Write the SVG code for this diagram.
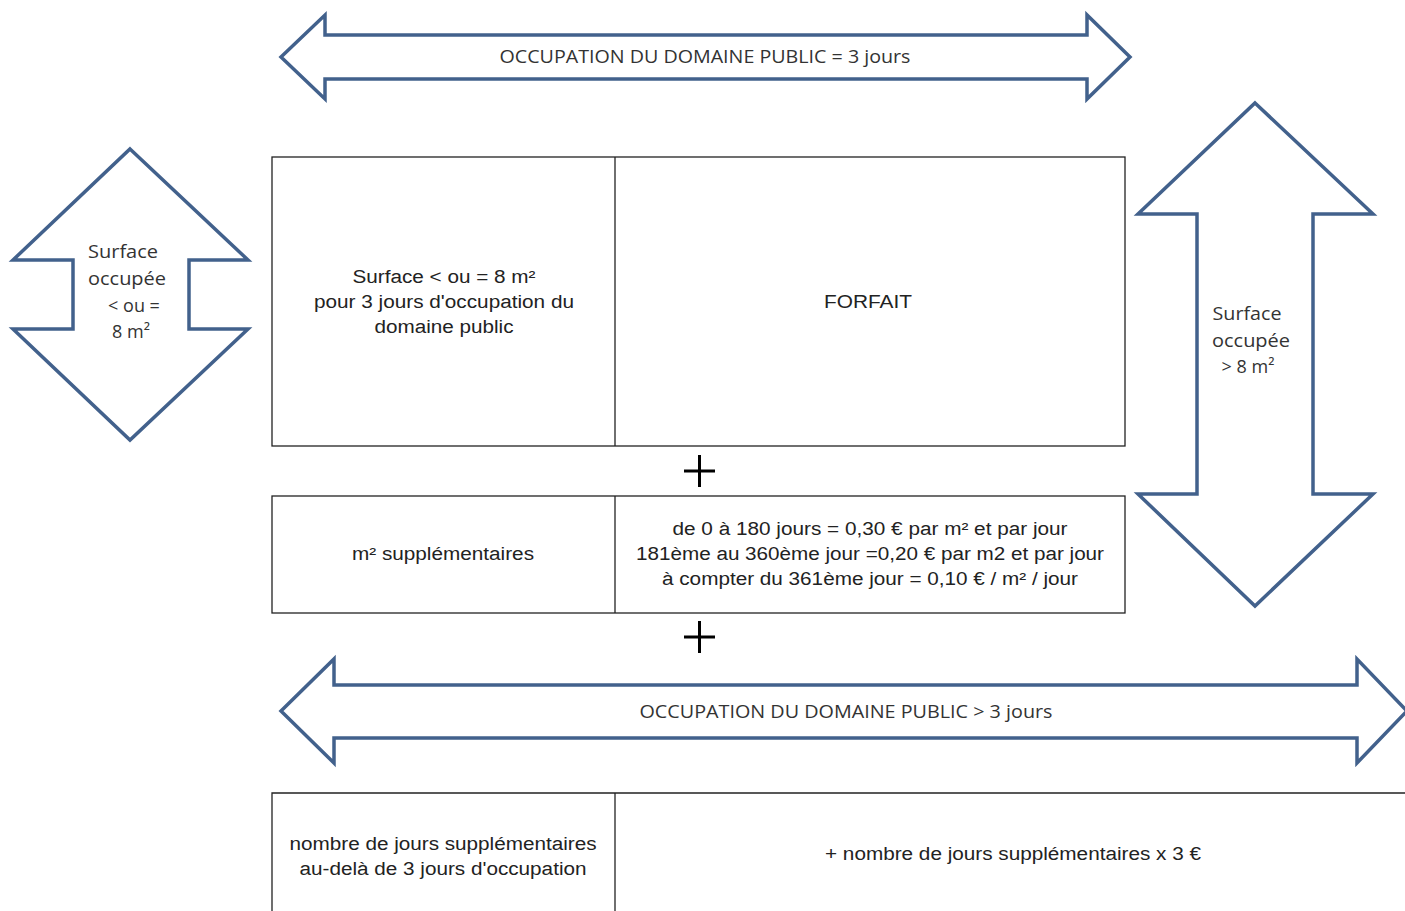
<svg xmlns="http://www.w3.org/2000/svg" width="1405" height="911" viewBox="0 0 1405 911">
<style>
.arr{fill:#fff;stroke:#42618c;stroke-width:3.5;stroke-linejoin:miter}
.cell{fill:#fff;stroke:#222;stroke-width:1.3}
.t{font-family:"Liberation Sans",Arial,sans-serif;font-size:18px;fill:#222;text-anchor:middle}
.c{font-family:"Open Sans","Liberation Sans",sans-serif;font-size:18px;fill:#333;text-anchor:middle}
.plus{stroke:#000;stroke-width:3}
</style>
<g id="arrow-top">
<polygon class="arr" points="281,57 325,15 325,35 1087,35 1087,15 1130,57 1087,99 1087,79 325,79 325,99"/>
<text class="c" x="705" y="63" textLength="411" lengthAdjust="spacingAndGlyphs">OCCUPATION DU DOMAINE PUBLIC = 3 jours</text>
</g>
<g id="arrow-left">
<polygon class="arr" points="130,149 248,260 189,260 189,329 248,329 130,440 13,329 73,329 73,260 13,260"/>
<text class="c" x="123" y="258" textLength="70" lengthAdjust="spacingAndGlyphs">Surface</text>
<text class="c" x="127" y="285" textLength="78" lengthAdjust="spacingAndGlyphs">occupée</text>
<text class="c" x="134" y="312">&lt; ou =</text>
<text class="c" x="131" y="338">8 m²</text>
</g>
<g id="arrow-right">
<polygon class="arr" points="1255,103 1373,214 1313,214 1313,494 1373,494 1255,606 1138,494 1197,494 1197,214 1138,214"/>
<text class="c" x="1247" y="320" textLength="69" lengthAdjust="spacingAndGlyphs">Surface</text>
<text class="c" x="1251" y="347" textLength="78" lengthAdjust="spacingAndGlyphs">occupée</text>
<text class="c" x="1248" y="373">&gt; 8 m²</text>
</g>
<g id="arrow-bottom">
<polygon class="arr" points="281,711 334,659 334,685 1357,685 1357,659 1407,711 1357,763 1357,738 334,738 334,763"/>
<text class="c" x="846" y="718" textLength="413" lengthAdjust="spacingAndGlyphs">OCCUPATION DU DOMAINE PUBLIC &gt; 3 jours</text>
</g>
<g id="row1">
<rect class="cell" x="272" y="157" width="853" height="289"/>
<line class="cell" x1="615" y1="157" x2="615" y2="446"/>
<text class="t" x="444" y="283" textLength="183" lengthAdjust="spacingAndGlyphs">Surface &lt; ou = 8 m²</text>
<text class="t" x="444" y="308" textLength="260" lengthAdjust="spacingAndGlyphs">pour 3 jours d'occupation du</text>
<text class="t" x="444" y="333" textLength="139" lengthAdjust="spacingAndGlyphs">domaine public</text>
<text class="t" x="868" y="308" textLength="88" lengthAdjust="spacingAndGlyphs">FORFAIT</text>
</g>
<g id="row2">
<rect class="cell" x="272" y="496" width="853" height="117"/>
<line class="cell" x1="615" y1="496" x2="615" y2="613"/>
<text class="t" x="443" y="560" textLength="182" lengthAdjust="spacingAndGlyphs">m² supplémentaires</text>
<text class="t" x="870" y="535" textLength="395" lengthAdjust="spacingAndGlyphs">de 0 à 180 jours = 0,30 € par m² et par jour</text>
<text class="t" x="870" y="560" textLength="468" lengthAdjust="spacingAndGlyphs">181ème au 360ème jour =0,20 € par m2 et par jour</text>
<text class="t" x="870" y="585" textLength="416" lengthAdjust="spacingAndGlyphs">à compter du 361ème jour = 0,10 € / m² / jour</text>
</g>
<g id="row3">
<polyline class="cell" fill="none" points="272,911 272,793 1406,793"/>
<line class="cell" x1="615" y1="793" x2="615" y2="911"/>
<text class="t" x="443" y="850" textLength="307" lengthAdjust="spacingAndGlyphs">nombre de jours supplémentaires</text>
<text class="t" x="443" y="875" textLength="287" lengthAdjust="spacingAndGlyphs">au-delà de 3 jours d'occupation</text>
<text class="t" x="1013" y="860" textLength="376" lengthAdjust="spacingAndGlyphs">+ nombre de jours supplémentaires x 3 €</text>
</g>
<g id="connectors">
<path class="plus" d="M684,471 H715 M699.5,455 V487"/>
<path class="plus" d="M684,637 H715 M699.5,621 V653"/>
</g>
</svg>
